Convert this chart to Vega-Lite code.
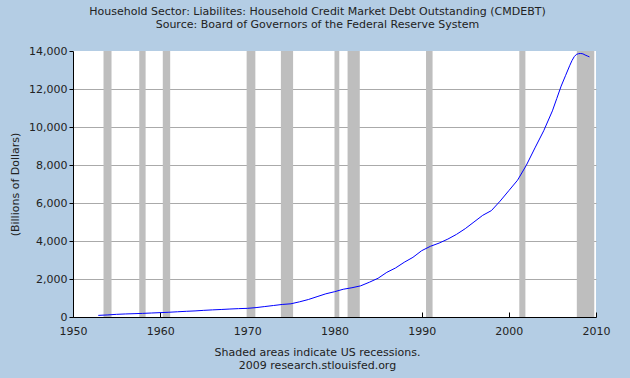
{
  "$schema": "https://vega.github.io/schema/vega-lite/v6.json",
  "width": 523,
  "height": 266,
  "autosize": {"type": "none"},
  "padding": {"left": 73, "top": 51, "right": 34, "bottom": 61},
  "background": "#B4CDE4",
  "title": {
    "text": ["Household Sector: Liabilites: Household Credit Market Debt Outstanding (CMDEBT)", "Source: Board of Governors of the Federal Reserve System"],
    "font": "DejaVu Sans",
    "fontSize": 11,
    "fontWeight": "normal",
    "color": "#222222",
    "lineHeight": 13,
    "anchor": "middle",
    "dx": -17,
    "offset": 15
  },
  "datasets": {
    "recessions": [
      {"year": 1953.5, "end": 1954.42},
      {"year": 1957.6, "end": 1958.33},
      {"year": 1960.3, "end": 1961.15},
      {"year": 1969.92, "end": 1970.92},
      {"year": 1973.85, "end": 1975.25},
      {"year": 1980.0, "end": 1980.55},
      {"year": 1981.5, "end": 1982.9},
      {"year": 1990.5, "end": 1991.25},
      {"year": 2001.2, "end": 2001.9},
      {"year": 2007.8, "end": 2009.8}
    ],
    "debt": [
      {"year": 1952.9, "value": 85},
      {"year": 1954, "value": 110},
      {"year": 1955, "value": 140},
      {"year": 1956, "value": 160},
      {"year": 1957, "value": 175},
      {"year": 1958, "value": 190},
      {"year": 1959, "value": 210},
      {"year": 1960, "value": 230},
      {"year": 1961, "value": 250},
      {"year": 1962, "value": 275},
      {"year": 1963, "value": 300},
      {"year": 1964, "value": 320},
      {"year": 1965, "value": 350},
      {"year": 1966, "value": 375},
      {"year": 1967, "value": 395},
      {"year": 1968, "value": 420},
      {"year": 1969, "value": 440},
      {"year": 1970, "value": 455},
      {"year": 1971, "value": 495},
      {"year": 1972, "value": 550},
      {"year": 1973, "value": 605},
      {"year": 1974, "value": 660},
      {"year": 1975, "value": 695},
      {"year": 1976, "value": 800},
      {"year": 1977, "value": 920},
      {"year": 1978, "value": 1070},
      {"year": 1979, "value": 1220},
      {"year": 1980, "value": 1330},
      {"year": 1981, "value": 1460},
      {"year": 1982, "value": 1540},
      {"year": 1983, "value": 1640},
      {"year": 1984, "value": 1830},
      {"year": 1985, "value": 2040},
      {"year": 1986, "value": 2350},
      {"year": 1987, "value": 2580},
      {"year": 1988, "value": 2880},
      {"year": 1989, "value": 3140},
      {"year": 1990, "value": 3490},
      {"year": 1991, "value": 3720},
      {"year": 1992, "value": 3890},
      {"year": 1993, "value": 4100},
      {"year": 1994, "value": 4350},
      {"year": 1995, "value": 4650},
      {"year": 1996, "value": 5000},
      {"year": 1997, "value": 5350},
      {"year": 1998, "value": 5600},
      {"year": 1999, "value": 6100},
      {"year": 2000, "value": 6650},
      {"year": 2001, "value": 7200},
      {"year": 2002, "value": 7980},
      {"year": 2003, "value": 8900},
      {"year": 2004, "value": 9800},
      {"year": 2005, "value": 10850},
      {"year": 2005.5, "value": 11500},
      {"year": 2006, "value": 12150},
      {"year": 2006.5, "value": 12700},
      {"year": 2007, "value": 13250},
      {"year": 2007.25, "value": 13500},
      {"year": 2007.5, "value": 13700},
      {"year": 2007.75, "value": 13820},
      {"year": 2008, "value": 13860},
      {"year": 2008.25, "value": 13870},
      {"year": 2008.5, "value": 13850},
      {"year": 2008.75, "value": 13790},
      {"year": 2009, "value": 13740},
      {"year": 2009.25, "value": 13690}
    ]
  },
  "encoding": {
    "x": {
      "field": "year",
      "type": "quantitative",
      "scale": {"domain": [1950, 2010], "nice": false, "zero": false, "padding": 0},
      "axis": {
        "values": [1950, 1960, 1970, 1980, 1990, 2000, 2010],
        "format": "d",
        "grid": false,
        "labelFlush": false,
        "tickSize": -5,
        "labelPadding": 13,
        "title": ["Shaded areas indicate US recessions.", "2009 research.stlouisfed.org"],
        "titleX": 244,
        "titleY": 29,
        "titleBaseline": "top",
        "titleAlign": "center",
        "titleLineHeight": 13
      }
    }
  },
  "layer": [
    {
      "data": {"name": "recessions"},
      "mark": {"type": "rect", "color": "#BEBEBE"},
      "encoding": {
        "x2": {"field": "end"}
      }
    },
    {
      "data": {"name": "debt"},
      "mark": {"type": "line", "color": "#0000FF", "strokeWidth": 1},
      "encoding": {
        "y": {
          "field": "value",
          "type": "quantitative",
          "scale": {"domain": [0, 14000], "nice": false},
          "axis": {
            "values": [0, 2000, 4000, 6000, 8000, 10000, 12000, 14000],
            "format": ",d",
            "grid": true,
            "labelFlush": false,
            "gridOpacity": {"condition": {"test": "datum.value === 14000 || datum.value === 0", "value": 0}, "value": 1},
            "tickSize": 4,
            "labelPadding": 2,
            "title": "(Billions of Dollars)",
            "titleX": -58,
            "titleY": 133,
            "titleAlign": "center",
            "titleBaseline": "middle",
            "titleAngle": 270
          }
        }
      }
    }
  ],
  "config": {
    "view": {"fill": "#FFFFFF", "stroke": null},
    "axis": {
      "domainColor": "#000000",
      "domainWidth": 1,
      "tickColor": "#000000",
      "gridColor": "#AAAAAA",
      "gridWidth": 1,
      "labelFont": "DejaVu Sans",
      "labelFontSize": 11,
      "labelColor": "#222222",
      "titleFont": "DejaVu Sans",
      "titleFontSize": 11,
      "titleFontWeight": "normal",
      "titleColor": "#222222"
    }
  }
}
